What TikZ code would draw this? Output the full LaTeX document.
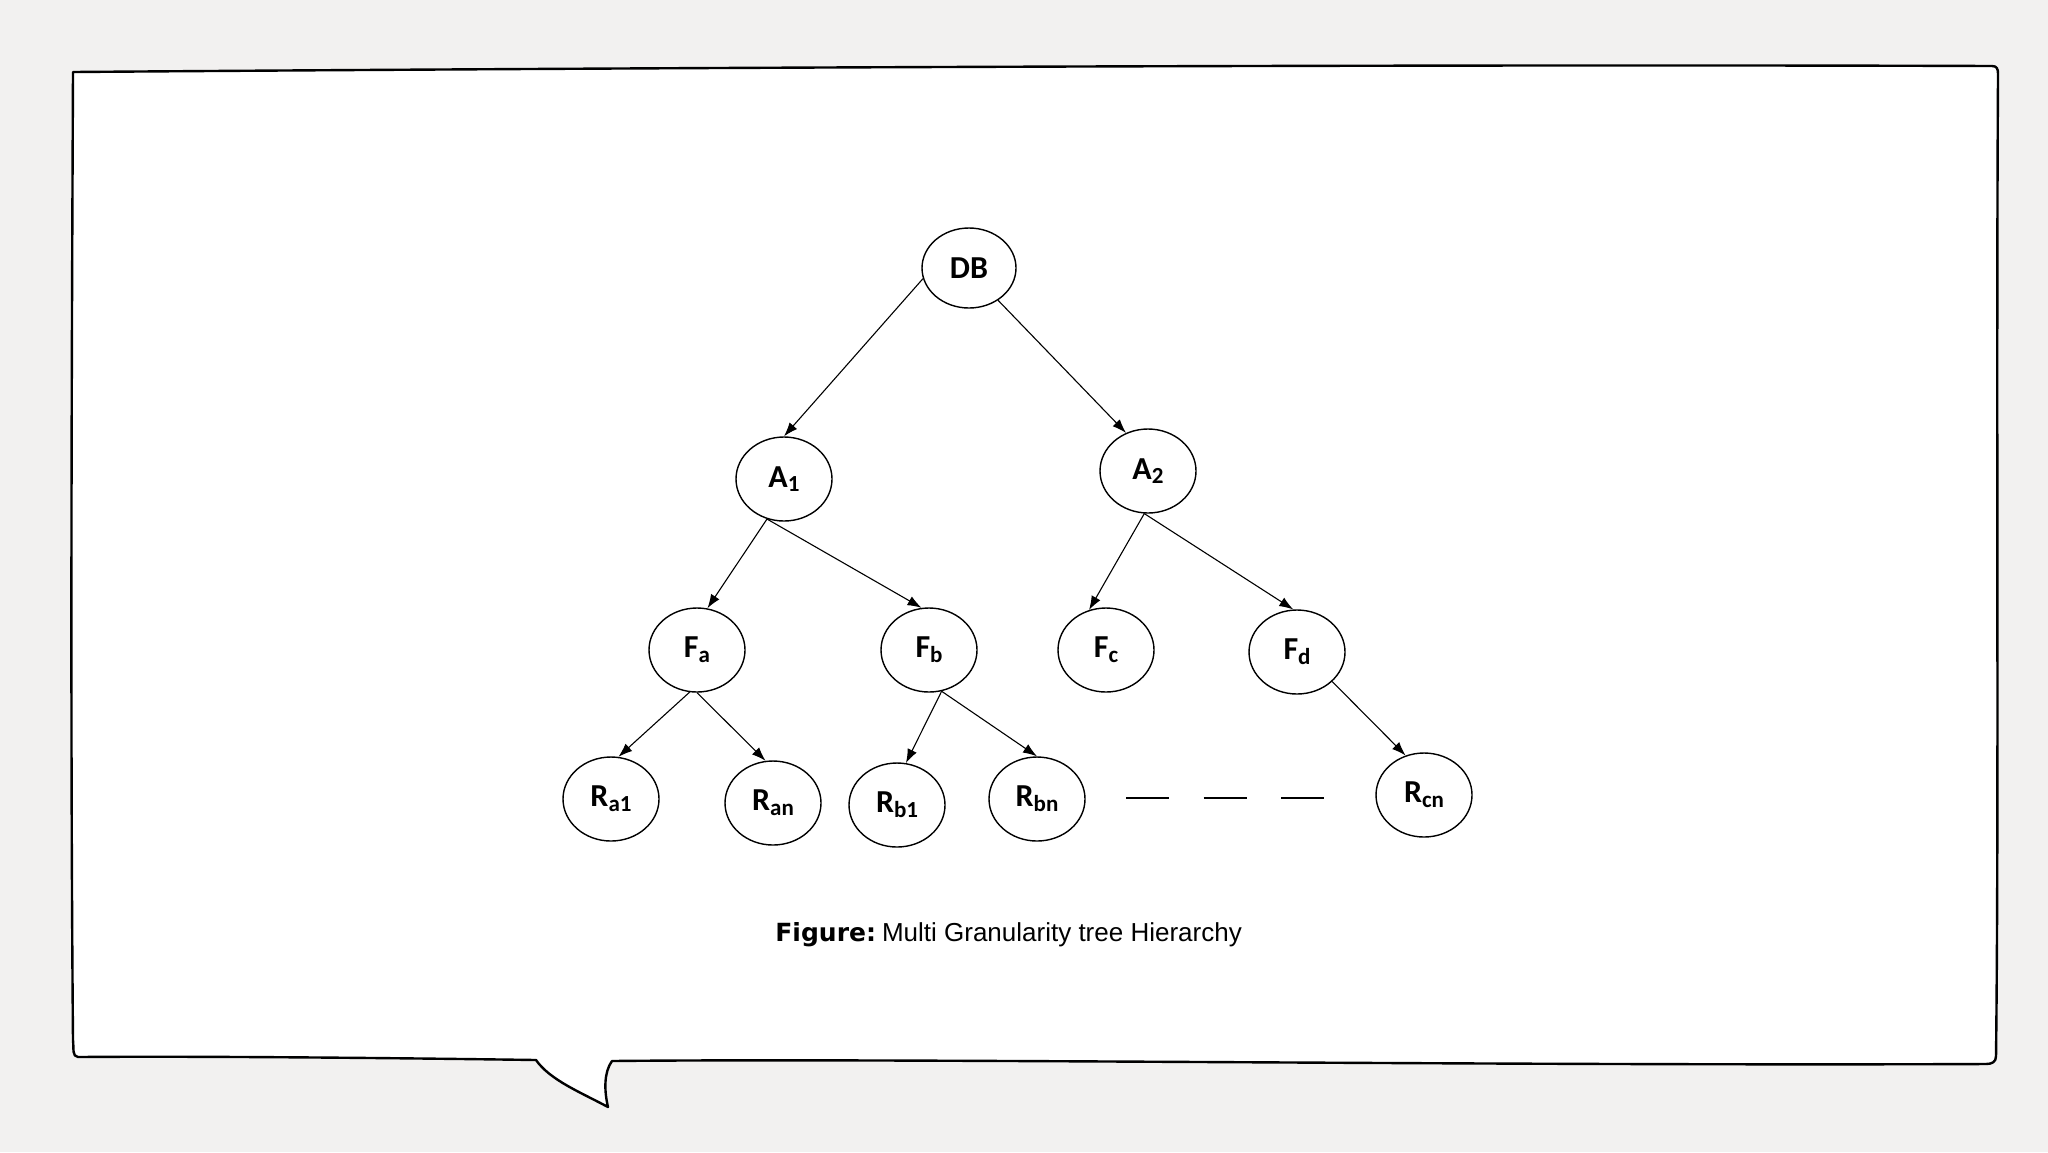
\documentclass[tikz,border=0pt]{standalone}
\usepackage{fontspec}
\setmainfont{Carlito}
\newfontfamily\capbold{DejaVu Sans}
\newfontfamily\captext{Liberation Sans}
\usetikzlibrary{arrows.meta,shapes.geometric}
\definecolor{paper}{RGB}{242,241,240}
\newcommand{\lowidx}[1]{\raisebox{-0.3ex}{\fontsize{11.5}{12}\selectfont #1}}

\begin{document}
\begin{tikzpicture}
  [x = 0.5pt, y = -0.5pt,
   nd/.style = {draw, ellipse, line width = 0.7pt, minimum width = 48pt,
     minimum height = 42pt, inner sep = 0pt, font = \fontsize{16}{18}\selectfont\bfseries},
   arr/.style = {-{Latex[length = 7pt, width = 5pt]}, line width = 0.55pt},
   gap/.style = {line width = 0.8pt, dash pattern = on 21.5pt off 17.25pt}]
    \path[use as bounding box, fill = paper] (0,0) rectangle (2048,1152);
    \filldraw[fill = white, line width = 1.2pt, line join = round]
      (73,72) .. controls (600,68) and (1400,64) .. (1992,66)
      .. controls (1997,66) and (1998,69) .. (1998,74)
      .. controls (1996,400) and (1999,800) .. (1996,1056)
      .. controls (1996,1062) and (1992,1064) .. (1986,1064)
      .. controls (1500,1066) and (900,1058) .. (612,1061)
      .. controls (604,1072) and (604,1090) .. (608,1107)
      .. controls (580,1092) and (550,1080) .. (536,1060)
      .. controls (400,1058) and (200,1056) .. (78,1057)
      .. controls (72,1056) and (74,1050) .. (73,1040)
      .. controls (70,700) and (72,300) .. (73,72) -- cycle;

    \node[nd, minimum width = 47pt, minimum height = 40pt] (db) at (969,268) {DB};
    \node[nd] (a1) at (784,479) {A\lowidx{1}};
    \node[nd] (a2) at (1148,471) {A\lowidx{2}};

    \node[nd] (fa) at (697,650) {F\lowidx{a}};
    \node[nd] (fb) at (929,650) {F\lowidx{b}};
    \node[nd] (fc) at (1106,650) {F\lowidx{c}};
    \node[nd] (fd) at (1297,652) {F\lowidx{d}};

    \node[nd] (ra1) at (611,799) {R\lowidx{a1}};
    \node[nd] (ran) at (773,803) {R\lowidx{an}};
    \node[nd] (rb1) at (897,805) {R\lowidx{b1}};
    \node[nd] (rbn) at (1037,799) {R\lowidx{bn}};
    \node[nd] (rcn) at (1424,795) {R\lowidx{cn}};

    \draw[arr] (db.193) -- (a1.north);
    \draw[arr] (db.-48) -- (a2.120);
    \draw[arr] (a1.-113) -- (fa.76);
    \draw[arr] (a1.-113) -- (fb.100);
    \draw[arr] (a2.-95) -- (fc.113);
    \draw[arr] (a2.-95) -- (fd.95);
    \draw[arr] (fa.-100) -- (ra1.80);
    \draw[arr] (fa.-90) -- (ran.100);
    \draw[arr] (fb.-73) -- (rb1.78);
    \draw[arr] (fb.-73) -- (rbn.90);
    \draw[arr] (fd.-40) -- (rcn.115);

    \coordinate (g1) at (1126,798);
    \coordinate (g2) at (1324,798);
    \draw[gap] (g1) -- (g2);

    \node[anchor = base west, inner sep = 0pt] (cap) at (775,941)
      {{\capbold\bfseries\fontsize{12.5}{14}\selectfont Figure:} {\captext\fontsize{13}{14}\selectfont Multi Granularity tree Hierarchy}};
\end{tikzpicture}
\end{document}
